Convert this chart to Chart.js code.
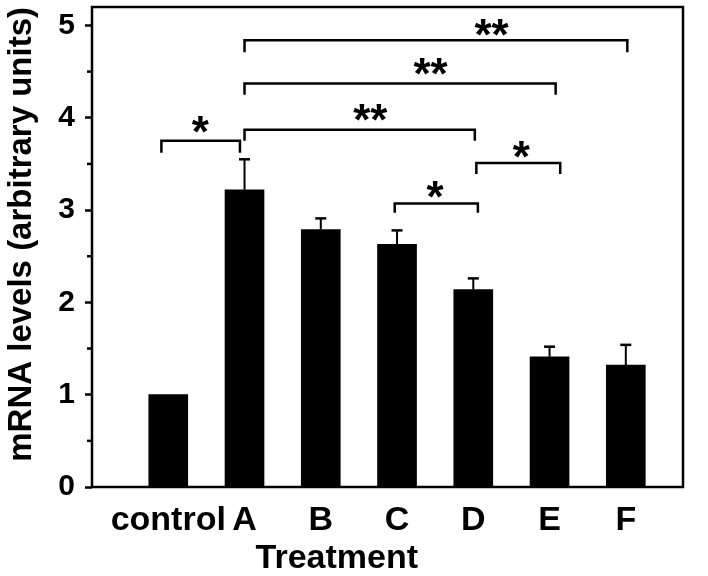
<!DOCTYPE html>
<html><head><meta charset="utf-8">
<script src="https://cdn.jsdelivr.net/npm/chart.js@4/dist/chart.umd.min.js"></script>
<style>html,body{margin:0;padding:0;background:#fff}#wrap{width:708px;height:576px}</style>
</head><body><div id="wrap"><canvas id="c" width="708" height="576"></canvas></div>
<script>
const categories = ['control', 'A', 'B', 'C', 'D', 'E', 'F'];
const means = [1.0, 3.22, 2.79, 2.63, 2.14, 1.41, 1.32];
const errors = [0, 0.33, 0.12, 0.15, 0.12, 0.11, 0.22];
const yMajorTicks = [0, 1, 2, 3, 4, 5];
const yMinorTicks = [0.5, 1.5, 2.5, 3.5, 4.5];
// significance brackets (x in category index units, y in data units)
const bracketStart = [-0.09, 1.0, 1.0, 1.0, 2.97, 4.04];
const bracketEnd = [0.94, 4.02, 5.08, 6.02, 4.06, 5.14];
const bracketTop = [3.75, 3.87, 4.37, 4.84, 3.07, 3.51];
const bracketFoot = [3.62, 3.75, 4.25, 4.71, 2.97, 3.39];
const bracketLabel = ['*', '**', '**', '**', '*', '*'];
const bracketLabelX = [0.42, 2.65, 3.44, 4.24, 3.5, 4.63];
const bracketLabelY = [3.95, 4.08, 4.58, 5.0, 3.25, 3.68];
const xTitle = 'Treatment';
const yTitle = 'mRNA levels (arbitrary units)';

const FAM = "'Liberation Sans', Arial, Helvetica, sans-serif";

const overlay = {
  id: 'overlay',
  afterDatasetsDraw(chart) {
    const ctx = chart.ctx, xs = chart.scales.x, ys = chart.scales.y, a = chart.chartArea;
    ctx.save();
    ctx.strokeStyle = '#000';
    ctx.fillStyle = '#000';
    // error bars
    means.forEach((m, i) => {
      if (!errors[i]) return;
      const x = xs.getPixelForValue(i);
      const y0 = ys.getPixelForValue(m);
      const y1 = ys.getPixelForValue(m + errors[i]);
      ctx.lineWidth = 2;
      ctx.beginPath(); ctx.moveTo(x, y0); ctx.lineTo(x, y1); ctx.stroke();
      ctx.lineWidth = 2.5;
      ctx.beginPath(); ctx.moveTo(x - 5.5, y1); ctx.lineTo(x + 5.5, y1); ctx.stroke();
    });
    // minor ticks
    ctx.lineWidth = 2.5;
    yMinorTicks.forEach(v => {
      const y = ys.getPixelForValue(v);
      ctx.beginPath(); ctx.moveTo(a.left - 5, y); ctx.lineTo(a.left, y); ctx.stroke();
    });
    // brackets
    ctx.lineWidth = 2.5;
    ctx.lineJoin = 'miter';
    bracketStart.forEach((s, i) => {
      const x1 = xs.getPixelForValue(s), x2 = xs.getPixelForValue(bracketEnd[i]);
      const yt = ys.getPixelForValue(bracketTop[i]), yf = ys.getPixelForValue(bracketFoot[i]);
      ctx.beginPath(); ctx.moveTo(x1, yf); ctx.lineTo(x1, yt); ctx.lineTo(x2, yt); ctx.lineTo(x2, yf); ctx.stroke();
      ctx.font = 'bold 44px ' + FAM;
      ctx.textAlign = 'center';
      ctx.textBaseline = 'alphabetic';
      ctx.fillText(bracketLabel[i], xs.getPixelForValue(bracketLabelX[i]), ys.getPixelForValue(bracketLabelY[i]) + 25);
    });
    // frame
    ctx.lineWidth = 2.5;
    ctx.strokeRect(a.left, a.top, a.right - a.left, a.bottom - a.top);
    // x title
    ctx.font = 'bold 34px ' + FAM;
    ctx.textAlign = 'center';
    ctx.textBaseline = 'alphabetic';
    ctx.fillText(xTitle, xs.getPixelForValue(2.21), 568);
    ctx.restore();
  }
};

new Chart(document.getElementById('c'), {
  type: 'bar',
  data: {
    datasets: [{
      data: means.map((v, i) => ({ x: i, y: v })),
      backgroundColor: '#000',
      borderWidth: 0,
      barThickness: 39
    }]
  },
  options: {
    responsive: false,
    animation: false,
    layout: { padding: { top: 7, right: 25, left: 0, bottom: 0 } },
    plugins: { legend: { display: false }, tooltip: { enabled: false } },
    scales: {
      x: {
        type: 'linear', min: -1, max: 6.75, offset: false,
        afterBuildTicks: s => { s.ticks = categories.map((c, i) => ({ value: i })); },
        afterFit: s => { s.height = 89; s.paddingLeft = 0; s.paddingRight = 0; },
        ticks: {
          callback: v => categories[v], autoSkip: false, maxRotation: 0,
          color: '#000', padding: 13, font: { family: FAM, size: 34, weight: 'bold' }
        },
        grid: { display: false, drawTicks: false },
        border: { display: false }
      },
      y: {
        min: 0, max: 5.2,
        afterBuildTicks: s => { s.ticks = yMajorTicks.map(v => ({ value: v })); },
        afterFit: s => { s.width = 92; s.paddingTop = 0; s.paddingBottom = 0; },
        ticks: {
          color: '#000', padding: 10, font: { family: FAM, size: 30, weight: 'bold' },
          callback: v => String(v)
        },
        grid: { drawOnChartArea: false, drawTicks: true, tickLength: 7, tickWidth: 2.5, tickColor: '#000' },
        border: { display: false },
        title: {
          display: true, text: yTitle, align: 'end', color: '#000',
          font: { family: FAM, size: 33, weight: 'bold' }, padding: { top: 2, bottom: 0 }
        }
      }
    }
  },
  plugins: [overlay]
});
</script>
</body></html>
